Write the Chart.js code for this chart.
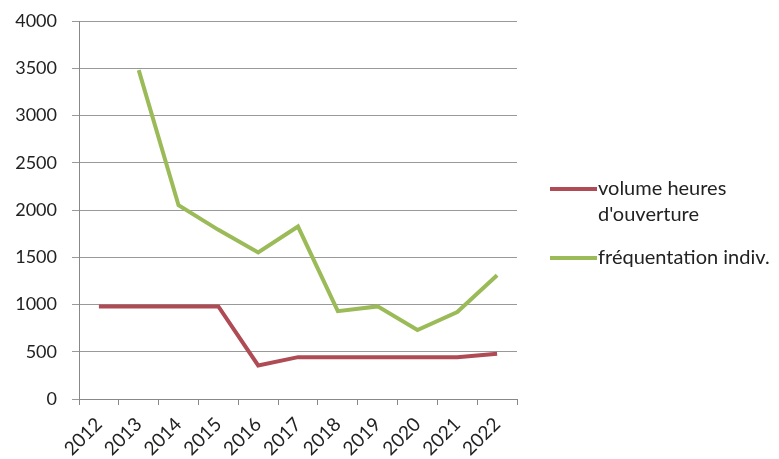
<!DOCTYPE html>
<html>
<head>
<meta charset="utf-8">
<script src="https://cdn.jsdelivr.net/npm/chart.js@4/dist/chart.umd.min.js"></script>
<style>
html,body{margin:0;padding:0;background:#fff;}
#wrap{position:relative;width:779px;height:459px;}
</style>
</head>
<body>
<div id="wrap"><canvas id="c" width="779" height="459"></canvas></div>
<script>
const categories = ['2012','2013','2014','2015','2016','2017','2018','2019','2020','2021','2022'];
const volumeHeures = [980, 980, 980, 980, 355, 443, 443, 443, 443, 443, 480];
const frequentation = [null, 3480, 2050, 1790, 1550, 1825, 930, 980, 730, 920, 1310];
const seriesNames = ['volume heures\nd\'ouverture', 'fréquentation indiv.'];
const yTicks = [0, 500, 1000, 1500, 2000, 2500, 3000, 3500, 4000];

const FONT = 'Lato, "Liberation Sans", sans-serif';

const legendPlugin = {
  id: 'sideLegend',
  afterDraw(chart) {
    const ctx = chart.ctx;
    const x0 = 550, x1 = 597;
    const ys = [189, 258];
    ctx.save();
    ctx.font = '20px ' + FONT;
    ctx.textBaseline = 'middle';
    ctx.fillStyle = '#222';
    chart.data.datasets.forEach((ds, i) => {
      ctx.strokeStyle = ds.borderColor;
      ctx.lineWidth = 4;
      ctx.beginPath();
      ctx.moveTo(x0, ys[i]);
      ctx.lineTo(x1, ys[i]);
      ctx.stroke();
      const lines = ds.label.split('\n');
      lines.forEach((t, j) => ctx.fillText(t, x1 + 1, ys[i] + j * 26));
    });
    ctx.restore();
  }
};

new Chart(document.getElementById('c'), {
  type: 'line',
  data: {
    labels: categories,
    datasets: [
      { label: seriesNames[0], data: volumeHeures, borderColor: '#AE4B55', borderWidth: 4, pointRadius: 0, tension: 0, fill: false },
      { label: seriesNames[1], data: frequentation, borderColor: '#9BBB59', borderWidth: 4, pointRadius: 0, tension: 0, fill: false, spanGaps: false }
    ]
  },
  options: {
    responsive: false,
    animation: false,
    layout: { padding: { left: 0, right: 262, top: 21, bottom: 0 } },
    plugins: { legend: { display: false }, tooltip: { enabled: false } },
    scales: {
      x: {
        type: 'category',
        offset: true,
        grid: { display: true, drawOnChartArea: false, offset: true, tickLength: 6, color: '#888', lineWidth: 1 },
        border: { display: true, color: '#888', width: 1 },
        ticks: { color: '#222', font: { family: FONT, size: 19 }, minRotation: 45, maxRotation: 45, autoSkip: false, padding: 8 },
        afterFit(s) { s.height = 60; s.paddingLeft = 0; s.paddingRight = 0; }
      },
      y: {
        min: 0, max: 4000,
        afterBuildTicks(s) { s.ticks = yTicks.map(v => ({ value: v })); },
        grid: { color: '#999', lineWidth: 1, tickLength: 7, drawTicks: true },
        border: { display: true, color: '#888', width: 1 },
        ticks: { color: '#222', font: { family: FONT, size: 18 }, padding: 15, callback: v => String(v) },
        afterFit(s) { s.width = 79; s.paddingTop = 0; s.paddingBottom = 0; }
      }
    }
  },
  plugins: [legendPlugin]
});
</script>
</body>
</html>
